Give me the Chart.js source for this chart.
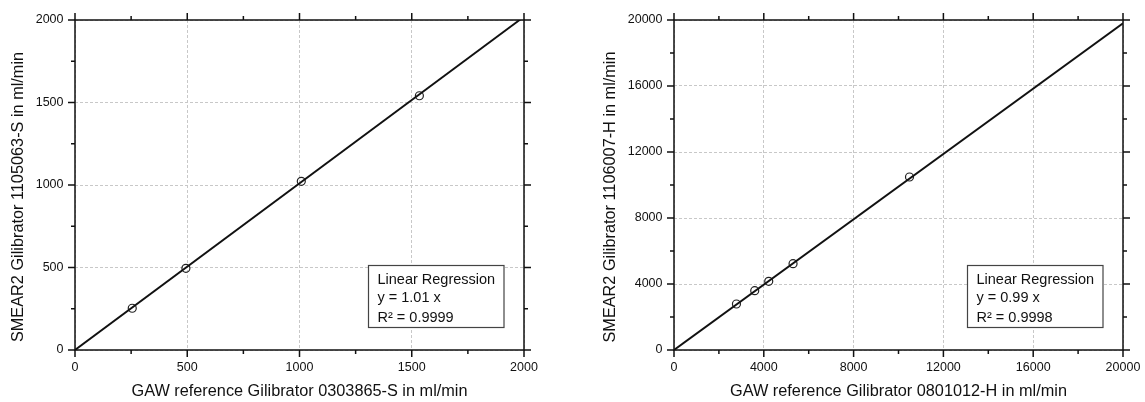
<!DOCTYPE html>
<html>
<head>
<meta charset="utf-8">
<script src="https://cdn.jsdelivr.net/npm/chart.js@4/dist/chart.umd.min.js"></script>
<style>
  html, body { margin: 0; padding: 0; background: #fff; }
  #wrap { position: relative; width: 1145px; height: 402px; overflow: hidden; }
  .panel { position: absolute; top: 0; height: 402px; }
  canvas { display: block; }
</style>
</head>
<body>
<div id="wrap">
  <div class="panel" style="left:0;width:572px"><canvas id="chartS" width="572" height="402"></canvas></div>
  <div class="panel" style="left:572px;width:573px"><canvas id="chartH" width="573" height="402"></canvas></div>
</div>
<script>
// Flow calibration: SMEAR2 Gilibrators against the GAW reference Gilibrators

// Small cell (S): reference flow vs. SMEAR2 flow, ml/min
const smallRef   = [255, 494, 1008, 1534];
const smallSmear = [253, 495, 1022, 1541];
const smallSlope = 1.01;
const smallR2    = '0.9999';
const smallMajorTicks = [0, 500, 1000, 1500, 2000];
const smallMinorTicks = [250, 750, 1250, 1750];
const smallXTitle = 'GAW reference Gilibrator 0303865-S in ml/min';
const smallYTitle = 'SMEAR2 Gilibrator 1105063-S in ml/min';

// High-flow cell (H): reference flow vs. SMEAR2 flow, ml/min
const highRef   = [2781, 3596, 4220, 5303, 10490];
const highSmear = [2788, 3594, 4164, 5230, 10485];
const highSlope = 0.99;
const highR2    = '0.9998';
const highMajorTicks = [0, 4000, 8000, 12000, 16000, 20000];
const highMinorTicks = [2000, 6000, 10000, 14000, 18000];
const highXTitle = 'GAW reference Gilibrator 0801012-H in ml/min';
const highYTitle = 'SMEAR2 Gilibrator 1106007-H in ml/min';

const FONT = '"Liberation Sans", Arial, Helvetica, sans-serif';
Chart.defaults.font.family = FONT;
Chart.defaults.color = '#111';

// Box frame on all four sides with outward major/minor tick marks
const framePlugin = {
  id: 'frame',
  afterDatasetsDraw(chart, args, opts) {
    const { ctx, chartArea: a, scales: { x, y } } = chart;
    ctx.save();
    ctx.strokeStyle = '#111';
    ctx.lineWidth = 1.5;
    ctx.beginPath();
    const mark = (vals, len) => {
      vals.forEach(v => {
        const px = x.getPixelForValue(v);
        ctx.moveTo(px, a.bottom); ctx.lineTo(px, a.bottom + len);
        ctx.moveTo(px, a.top);    ctx.lineTo(px, a.top - len);
        const py = y.getPixelForValue(v);
        ctx.moveTo(a.left, py);  ctx.lineTo(a.left - len, py);
        ctx.moveTo(a.right, py); ctx.lineTo(a.right + len, py);
      });
    };
    mark(opts.major, 7);
    mark(opts.minor, 4);
    ctx.stroke();
    ctx.strokeRect(a.left, a.top, a.right - a.left, a.bottom - a.top);
    ctx.restore();
  }
};

// Regression summary box in the lower right corner of the plot
const fitBoxPlugin = {
  id: 'fitBox',
  afterDatasetsDraw(chart, args, opts) {
    const { ctx, chartArea: a } = chart;
    ctx.save();
    ctx.font = '14.5px ' + FONT;
    const w = Math.max(...opts.lines.map(t => ctx.measureText(t).width)) + 18;
    const h = 63;
    const right = a.right - 20;
    const bottom = a.bottom - 22.5;
    const left = Math.round(right - w) + 0.5;
    const top = Math.round(bottom - h) + 0.5;
    ctx.fillStyle = '#fff';
    ctx.fillRect(left, top, right - left, bottom - top);
    ctx.strokeStyle = '#444';
    ctx.lineWidth = 1.2;
    ctx.strokeRect(left, top, right - left, bottom - top);
    ctx.fillStyle = '#111';
    ctx.textAlign = 'left';
    ctx.textBaseline = 'alphabetic';
    [18, 36, 56].forEach((dy, i) => ctx.fillText(opts.lines[i], left + 9, top + dy));
    ctx.restore();
  }
};

// Rotated y-axis title
const yTitlePlugin = {
  id: 'yTitle',
  afterDraw(chart, args, opts) {
    const { ctx } = chart;
    ctx.save();
    ctx.font = '16.3px ' + FONT;
    ctx.fillStyle = '#111';
    ctx.textAlign = 'center';
    ctx.textBaseline = 'alphabetic';
    ctx.translate(opts.x, opts.y);
    ctx.rotate(-Math.PI / 2);
    ctx.fillText(opts.text, 0, 0);
    ctx.restore();
  }
};

function makeChart(id, cfg) {
  const xMax = cfg.major[cfg.major.length - 1];
  const points = cfg.ref.map((v, i) => ({ x: v, y: cfg.smear[i] }));
  const axis = (isX) => ({
    type: 'linear',
    min: 0,
    max: xMax,
    afterBuildTicks: s => { s.ticks = cfg.major.map(v => ({ value: v })); },
    afterFit: s => {
      if (isX) s.height = 52; else s.width = cfg.yWidth;
      // the plot box is placed by the layout padding alone
      s.paddingLeft = 0; s.paddingRight = 0; s.paddingTop = 0; s.paddingBottom = 0;
    },
    grid: { color: '#c8c8c8', lineWidth: 1, drawTicks: false },
    border: { display: false, dash: [3, 2] },
    ticks: {
      font: { size: 12.5 },
      color: '#111',
      padding: isX ? 10.5 : 11.5,
      maxRotation: 0,
      autoSkip: false,
      callback: v => String(v)
    },
    title: isX ? {
      display: true,
      text: cfg.xTitle,
      font: { size: 16.3 },
      color: '#111',
      padding: { top: 0, bottom: 1 }
    } : { display: false }
  });
  return new Chart(document.getElementById(id), {
    type: 'scatter',
    data: {
      datasets: [
        {
          label: 'Linear Regression',
          type: 'line',
          data: [{ x: 0, y: 0 }, { x: xMax, y: cfg.slope * xMax }],
          borderColor: '#111',
          borderWidth: 1.9,
          pointRadius: 0,
          showLine: true,
          fill: false
        },
        {
          label: 'Measurements',
          data: points,
          pointStyle: 'circle',
          pointRadius: 4,
          borderWidth: 1.2,
          borderColor: '#222',
          backgroundColor: 'rgba(0,0,0,0)'
        }
      ]
    },
    options: {
      responsive: false,
      animation: false,
      devicePixelRatio: 1,
      layout: { padding: { left: 0, right: cfg.padRight, top: 20, bottom: 0 } },
      scales: { x: axis(true), y: axis(false) },
      plugins: {
        legend: { display: false },
        tooltip: { enabled: false },
        frame: { major: cfg.major, minor: cfg.minor },
        fitBox: { lines: ['Linear Regression', 'y = ' + cfg.slope.toFixed(2) + ' x', 'R\u00B2 = ' + cfg.r2] },
        yTitle: { text: cfg.yTitle, x: cfg.yTitleX, y: 197 }
      }
    },
    plugins: [framePlugin, fitBoxPlugin, yTitlePlugin]
  });
}

makeChart('chartS', {
  ref: smallRef, smear: smallSmear, slope: smallSlope, r2: smallR2,
  major: smallMajorTicks, minor: smallMinorTicks,
  xTitle: smallXTitle, yTitle: smallYTitle,
  yWidth: 75, padRight: 48, yTitleX: 23.3
});

makeChart('chartH', {
  ref: highRef, smear: highSmear, slope: highSlope, r2: highR2,
  major: highMajorTicks, minor: highMinorTicks,
  xTitle: highXTitle, yTitle: highYTitle,
  yWidth: 102, padRight: 22, yTitleX: 43
});
</script>
</body>
</html>
